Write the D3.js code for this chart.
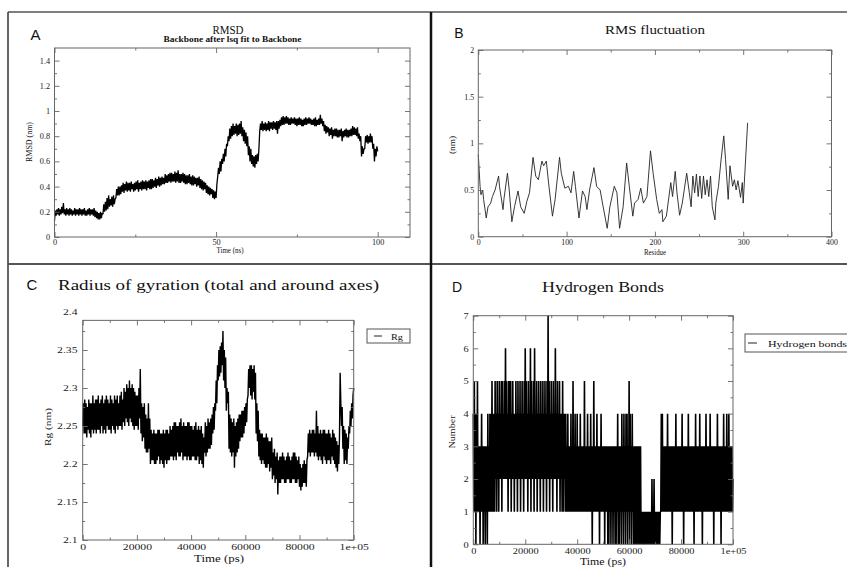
<!DOCTYPE html>
<html><head><meta charset="utf-8">
<script src="https://cdn.jsdelivr.net/npm/d3@7"></script>
<style>body{margin:0;background:#fff}svg{display:block}</style>
</head><body><svg id="c" width="847" height="567"></svg>
<script>
// ---------------- DATA ----------------
// A: RMSD (nm) every 0.25 ns, 0..100 ns
const rmsdStep = 0.25;
const rmsdValues = [
0.13,0.21,0.17,0.22, 0.18,0.23,0.17,0.22, 0.18,0.24,0.19,0.27, 0.18,0.22,0.17,0.23, 0.18,0.22,0.17,0.23,
0.18,0.22,0.17,0.21, 0.18,0.23,0.17,0.22, 0.18,0.22,0.17,0.23, 0.18,0.22,0.17,0.22, 0.18,0.23,0.17,0.21,
0.17,0.22,0.18,0.23, 0.17,0.22,0.18,0.22, 0.17,0.23,0.16,0.21, 0.15,0.2,0.14,0.19, 0.14,0.2,0.15,0.19,
0.18,0.26,0.2,0.28, 0.21,0.31,0.22,0.33, 0.24,0.3,0.25,0.32, 0.24,0.33,0.26,0.3, 0.31,0.38,0.33,0.4,
0.33,0.4,0.34,0.41, 0.36,0.43,0.35,0.42, 0.37,0.44,0.36,0.43, 0.37,0.43,0.36,0.44, 0.38,0.42,0.36,0.43,
0.37,0.44,0.38,0.45, 0.36,0.43,0.38,0.44, 0.37,0.45,0.38,0.44, 0.38,0.45,0.37,0.44, 0.39,0.45,0.38,0.46,
0.38,0.46,0.39,0.45, 0.4,0.47,0.39,0.46, 0.41,0.48,0.4,0.47, 0.41,0.48,0.42,0.47, 0.42,0.5,0.43,0.49,
0.43,0.5,0.44,0.51, 0.43,0.51,0.44,0.5, 0.44,0.52,0.43,0.51, 0.44,0.53,0.43,0.5, 0.43,0.5,0.44,0.51,
0.43,0.5,0.42,0.49, 0.42,0.49,0.43,0.5, 0.42,0.48,0.41,0.49, 0.41,0.48,0.42,0.47, 0.4,0.47,0.41,0.48,
0.39,0.46,0.38,0.45, 0.37,0.44,0.38,0.43, 0.35,0.41,0.34,0.4, 0.33,0.39,0.34,0.38, 0.31,0.37,0.3,0.36,
0.31,0.42,0.48,0.55, 0.5,0.6,0.52,0.62, 0.58,0.66,0.6,0.7, 0.64,0.74,0.72,0.8, 0.76,0.86,0.78,0.88,
0.8,0.9,0.81,0.88, 0.82,0.9,0.8,0.89, 0.81,0.9,0.82,0.92, 0.8,0.87,0.76,0.85, 0.74,0.83,0.72,0.8,
0.65,0.72,0.6,0.7, 0.58,0.65,0.56,0.64, 0.55,0.65,0.58,0.66, 0.6,0.7,0.84,0.9, 0.85,0.92,0.84,0.9,
0.85,0.91,0.84,0.9, 0.85,0.92,0.84,0.91, 0.86,0.91,0.85,0.92, 0.86,0.91,0.85,0.92, 0.82,0.92,0.86,0.93,
0.88,0.95,0.89,0.96, 0.89,0.95,0.9,0.96, 0.9,0.95,0.89,0.94, 0.89,0.95,0.9,0.94, 0.9,0.95,0.89,0.94,
0.88,0.94,0.89,0.95, 0.89,0.94,0.88,0.93, 0.88,0.94,0.89,0.95, 0.89,0.94,0.9,0.95, 0.9,0.94,0.89,0.93,
0.89,0.94,0.88,0.95, 0.88,0.93,0.89,0.94, 0.89,0.97,0.9,0.94, 0.88,0.92,0.84,0.89, 0.82,0.88,0.83,0.87,
0.8,0.86,0.81,0.87, 0.78,0.85,0.8,0.86, 0.8,0.86,0.79,0.85, 0.79,0.85,0.8,0.86, 0.76,0.84,0.79,0.85,
0.8,0.86,0.79,0.85, 0.79,0.85,0.8,0.86, 0.8,0.88,0.81,0.87, 0.81,0.86,0.8,0.87, 0.78,0.82,0.76,0.8,
0.64,0.72,0.66,0.7, 0.7,0.8,0.75,0.81, 0.74,0.8,0.75,0.82, 0.75,0.8,0.7,0.74, 0.6,0.7,0.64,0.72,
0.68];

// B: RMS fluctuation per residue
const residues = [0,2,3,5,6,9,11,14,16,19,23,24,28,29,33,35,38,41,45,48,52,55,58,62,65,68,72,74,77,80,84,87,92,94,98,102,105,108,110,114,118,121,123,126,131,134,138,141,146,149,154,157,160,164,168,171,175,177,181,184,187,191,195,198,202,205,208,209,213,218,220,223,225,228,231,236,239,241,243,245,247,249,251,253,255,257,259,261,263,265,268,269,272,275,278,280,283,285,288,290,292,294,297,299,300,305];
const rmsf = [0.88,0.54,0.45,0.5,0.4,0.2,0.32,0.36,0.43,0.5,0.65,0.54,0.29,0.4,0.68,0.5,0.16,0.32,0.49,0.32,0.25,0.38,0.47,0.85,0.65,0.61,0.81,0.76,0.81,0.54,0.22,0.4,0.85,0.68,0.52,0.54,0.47,0.7,0.54,0.2,0.49,0.43,0.29,0.5,0.74,0.54,0.5,0.34,0.09,0.32,0.54,0.47,0.09,0.32,0.79,0.54,0.22,0.36,0.4,0.52,0.36,0.43,0.92,0.68,0.4,0.25,0.29,0.16,0.22,0.58,0.43,0.7,0.47,0.23,0.36,0.68,0.47,0.32,0.65,0.47,0.67,0.43,0.65,0.41,0.65,0.45,0.61,0.43,0.65,0.32,0.18,0.36,0.54,0.83,1.08,0.83,0.4,0.76,0.54,0.61,0.5,0.6,0.42,0.58,0.36,1.22];

// C: Radius of gyration (nm) every 250 ps, 0..100000 ps
const rgStep = 250;
const rgValues = [
2.25,2.28,2.24,2.285, 2.24,2.28,2.235,2.275, 2.245,2.285,2.24,2.28, 2.235,2.28,2.245,2.29, 2.24,2.28,2.245,2.285,
2.24,2.285,2.245,2.29, 2.245,2.28,2.24,2.285, 2.25,2.29,2.24,2.28, 2.245,2.285,2.24,2.29, 2.25,2.285,2.245,2.28,
2.245,2.29,2.24,2.285, 2.25,2.28,2.245,2.29, 2.24,2.285,2.25,2.29, 2.245,2.28,2.25,2.29, 2.25,2.295,2.245,2.285,
2.255,2.3,2.25,2.295, 2.26,2.305,2.255,2.3, 2.25,2.31,2.26,2.3, 2.255,2.305,2.25,2.3, 2.245,2.295,2.25,2.29,
2.25,2.29,2.245,2.3, 2.26,2.325,2.24,2.28, 2.23,2.275,2.235,2.28, 2.22,2.265,2.215,2.26, 2.215,2.28,2.22,2.26,
2.2,2.245,2.205,2.24, 2.205,2.245,2.2,2.24, 2.2,2.24,2.205,2.245, 2.21,2.245,2.2,2.24, 2.205,2.24,2.2,2.245,
2.195,2.24,2.205,2.245, 2.2,2.245,2.205,2.24, 2.205,2.25,2.21,2.245, 2.21,2.25,2.205,2.255, 2.21,2.255,2.205,2.25,
2.215,2.25,2.21,2.255, 2.21,2.26,2.215,2.25, 2.205,2.255,2.21,2.25, 2.21,2.25,2.205,2.255, 2.21,2.255,2.205,2.25,
2.205,2.25,2.21,2.245, 2.21,2.25,2.205,2.255, 2.205,2.245,2.21,2.25, 2.2,2.245,2.205,2.25, 2.2,2.24,2.195,2.235,
2.215,2.255,2.21,2.25, 2.215,2.26,2.22,2.255, 2.22,2.26,2.225,2.265, 2.24,2.275,2.245,2.28, 2.27,2.31,2.28,2.33,
2.31,2.35,2.315,2.355, 2.32,2.36,2.33,2.375, 2.31,2.35,2.3,2.34, 2.27,2.3,2.28,2.295, 2.22,2.265,2.215,2.26,
2.21,2.255,2.215,2.26, 2.195,2.25,2.21,2.255, 2.215,2.26,2.22,2.265, 2.23,2.265,2.235,2.27, 2.235,2.27,2.24,2.275,
2.25,2.28,2.255,2.285, 2.29,2.325,2.3,2.33, 2.29,2.33,2.285,2.325, 2.295,2.33,2.285,2.32, 2.24,2.28,2.23,2.27,
2.21,2.245,2.205,2.24, 2.2,2.24,2.205,2.235, 2.2,2.235,2.195,2.24, 2.195,2.235,2.2,2.23, 2.19,2.23,2.195,2.235,
2.18,2.215,2.185,2.22, 2.175,2.21,2.18,2.215, 2.16,2.205,2.175,2.21, 2.175,2.21,2.18,2.215, 2.18,2.21,2.175,2.205,
2.175,2.21,2.18,2.215, 2.18,2.21,2.175,2.205, 2.175,2.21,2.18,2.215, 2.18,2.215,2.175,2.21, 2.175,2.205,2.18,2.21,
2.17,2.2,2.165,2.195, 2.17,2.2,2.175,2.205, 2.175,2.2,2.17,2.205, 2.21,2.24,2.215,2.245, 2.21,2.24,2.215,2.245,
2.215,2.245,2.21,2.24, 2.215,2.27,2.21,2.25, 2.205,2.24,2.21,2.245, 2.205,2.24,2.2,2.245, 2.21,2.245,2.205,2.24,
2.2,2.24,2.205,2.245, 2.205,2.24,2.2,2.235, 2.21,2.245,2.205,2.24, 2.2,2.235,2.195,2.23, 2.19,2.225,2.2,2.235,
2.32,2.28,2.25,2.275, 2.22,2.25,2.2,2.245, 2.205,2.24,2.2,2.235, 2.22,2.25,2.24,2.27, 2.25,2.28,2.26,2.29,
2.3];

// D: Hydrogen bonds every 200 ps, 0..100000 ps
const hbStep = 200;
const hbValues = [
4,1,5,1,4,0,4,1,5,1, 3,1,3,0,3,1,4,1,3,0, 3,1,3,0,3,1,3,0,4,1, 3,1,4,1,4,1,5,1,4,1, 4,1,5,2,4,1,5,2,4,1,
5,2,4,2,5,1,5,2,4,2, 5,2,6,2,5,2,4,1,5,2, 5,2,5,1,4,2,5,2,4,1, 4,2,5,2,4,1,5,2,4,2, 5,1,4,2,5,2,4,1,5,2,
6,2,5,2,4,1,5,2,4,2, 6,1,5,2,4,2,5,1,6,2, 4,2,5,1,4,2,5,2,4,1, 5,2,4,2,5,1,4,2,5,2, 4,1,5,2,7,2,5,1,4,2,
5,2,4,1,5,2,4,2,6,2, 4,1,5,2,4,2,5,1,4,2, 4,1,5,1,4,2,4,1,4,1, 3,1,4,1,3,1,3,1,4,1, 3,1,5,1,3,1,4,1,3,1,
4,1,3,1,3,1,4,1,3,1, 3,1,3,1,5,1,3,1,3,1, 4,1,3,1,3,1,4,1,3,0, 3,1,5,1,3,1,3,1,4,1, 3,1,3,0,3,1,4,1,3,1,
3,1,3,0,3,1,3,1,3,0, 3,0,3,1,3,0,3,1,3,0, 3,1,3,0,3,0,3,1,4,0, 3,0,3,1,3,0,4,1,3,0, 4,1,3,0,4,1,4,0,3,1,
5,0,4,1,3,0,4,1,3,0, 3,0,3,0,3,0,3,0,3,0, 3,0,3,0,1,0,1,0,1,0, 1,0,1,0,1,0,1,0,1,0, 1,0,1,0,2,0,1,0,2,0,
1,0,1,0,1,0,1,0,1,0, 1,1,4,1,4,1,3,1,3,1, 3,1,3,1,4,1,3,1,3,1, 3,1,3,0,3,1,3,1,3,1, 4,1,3,1,3,1,3,1,3,1,
3,1,4,1,3,0,3,1,3,1, 3,1,3,1,4,1,3,1,3,1, 3,1,3,1,3,0,3,1,4,1, 3,1,3,1,3,1,4,1,3,1, 3,0,3,1,3,1,3,1,4,1,
3,1,3,1,3,1,4,1,3,1, 3,1,3,0,3,1,3,1,3,1, 4,1,3,1,3,1,3,0,3,1, 3,1,4,1,3,1,3,1,4,1, 3,1,4,1,3,1,3,1,3,1,
2];

// tick values
const rmsdXTicks = [0,50,100], rmsdXMinor = [25,75];
const rmsdYTicks = [0,0.2,0.4,0.6,0.8,1,1.2,1.4], rmsdYMinor = [0.1,0.3,0.5,0.7,0.9,1.1,1.3];
const rmsfXTicks = [0,100,200,300,400], rmsfXMinor = [50,150,250,350];
const rmsfYTicks = [0,0.5,1,1.5,2], rmsfYMinor = [0.25,0.75,1.25,1.75];
const psTicks = [0,20000,40000,60000,80000,100000], psMinor = [10000,30000,50000,70000,90000];
const rgYTicks = [2.1,2.15,2.2,2.25,2.3,2.35,2.4], rgYMinor = [2.125,2.175,2.225,2.275,2.325,2.375];
const hbYTicks = [0,1,2,3,4,5,6,7], hbYMinor = [0.5,1.5,2.5,3.5,4.5,5.5,6.5];

// ---------------- DRAW ----------------
const SERIF = "'Liberation Serif','Times New Roman',serif";
const SANS = "'Liberation Sans',Arial,sans-serif";
const svg = d3.select('#c');
svg.append('rect').attr('width',847).attr('height',567).attr('fill','#fff');

function txt(x, y, s, o) {
  const t = svg.append('text').attr('x', x).attr('y', y).text(s)
    .attr('font-family', o.family || SERIF).attr('font-size', o.size)
    .attr('fill', o.fill || '#111').attr('text-anchor', o.anchor || 'middle');
  if (o.weight) t.attr('font-weight', o.weight);
  if (o.len) t.attr('textLength', o.len).attr('lengthAdjust', 'spacingAndGlyphs');
  if (o.rot) t.attr('transform', `rotate(${o.rot},${x},${y})`);
  return t;
}

function panel(o) {
  const x = d3.scaleLinear().domain(o.xd).range(o.xr);
  const y = d3.scaleLinear().domain(o.yd).range(o.yr);
  const L = x(o.xFrame[0]), R = x(o.xFrame[1]);
  const B = y(o.yFrame[0]), T = y(o.yFrame[1]);
  const g = svg.append('g');
  const inside = (v, a, b) => v >= Math.min(a,b) - 0.01 && v <= Math.max(a,b) + 0.01;
  const style = (sel) => {
    sel.select('.domain').remove();
    sel.selectAll('line').attr('stroke', '#666').attr('stroke-width', 0.9);
    sel.selectAll('text').attr('font-family', SERIF).attr('font-size', o.tickSize).attr('fill', '#222');
  };
  // data first, frame & ticks on top
  const line = d3.line().x(d => x(d[0])).y(d => y(d[1]));
  g.append('path').datum(o.data).attr('d', line).attr('fill', 'none')
    .attr('stroke', o.color || '#000').attr('stroke-width', o.sw || 1).attr('stroke-linejoin', 'bevel');
  // minor ticks
  g.append('g').attr('transform', `translate(0,${B})`).call(d3.axisBottom(x).tickValues(o.xMinor).tickSize(-2.5).tickFormat('')).call(style);
  g.append('g').attr('transform', `translate(0,${T})`).call(d3.axisTop(x).tickValues(o.xMinor).tickSize(-2.5).tickFormat('')).call(style);
  g.append('g').attr('transform', `translate(${L},0)`).call(d3.axisLeft(y).tickValues(o.yMinor).tickSize(-2.5).tickFormat('')).call(style);
  g.append('g').attr('transform', `translate(${R},0)`).call(d3.axisRight(y).tickValues(o.yMinor).tickSize(-2.5).tickFormat('')).call(style);
  // major
  const ab = g.append('g').attr('transform', `translate(0,${B})`).call(d3.axisBottom(x).tickValues(o.xTicks).tickSize(-5).tickPadding(o.xPad).tickFormat(o.xFmt)).call(style);
  g.append('g').attr('transform', `translate(0,${T})`).call(d3.axisTop(x).tickValues(o.xTicks.filter(v=>inside(x(v),L,R))).tickSize(-5).tickFormat('')).call(style);
  const al = g.append('g').attr('transform', `translate(${L},0)`).call(d3.axisLeft(y).tickValues(o.yTicks).tickSize(-5).tickPadding(o.yPad).tickFormat(o.yFmt)).call(style);
  g.append('g').attr('transform', `translate(${R},0)`).call(d3.axisRight(y).tickValues(o.yTicks.filter(v=>inside(y(v),T,B))).tickSize(-5).tickFormat('')).call(style);
  ab.selectAll('.tick').filter(d => !inside(x(d), L, R)).select('line').remove();
  al.selectAll('.tick').filter(d => !inside(y(d), T, B)).select('line').remove();
  if (o.sx) {
    ab.selectAll('text').attr('transform', `scale(${o.sx},1)`);
    al.selectAll('text').attr('transform', `scale(${o.sx},1)`);
  }
  // frame
  g.append('rect').attr('x', L).attr('y', T).attr('width', R - L).attr('height', B - T)
    .attr('fill', 'none').attr('stroke', '#666').attr('stroke-width', 1);
  return {x, y};
}

const numFmt = d => String(+d.toFixed(3));
const psFmt = d => d === 100000 ? '1e+05' : String(d);

// Panel A
panel({
  xd: [0, 110], xr: [54.5, 410], yd: [0, 1.5], yr: [237, 48],
  xFrame: [0, 110], yFrame: [0, 1.5],
  xTicks: rmsdXTicks, xMinor: rmsdXMinor, yTicks: rmsdYTicks, yMinor: rmsdYMinor,
  xFmt: numFmt, yFmt: numFmt, tickSize: 7.5, xPad: 3, yPad: 4, sx: 1.1,
  data: rmsdValues.map((v, i) => [i * rmsdStep, v]), sw: 1.3
});
// Panel B
panel({
  xd: [0, 400], xr: [478.3, 831.5], yd: [0, 2], yr: [236.7, 50],
  xFrame: [0, 400], yFrame: [0, 2],
  xTicks: rmsfXTicks, xMinor: rmsfXMinor, yTicks: rmsfYTicks, yMinor: rmsfYMinor,
  xFmt: numFmt, yFmt: numFmt, tickSize: 7.5, xPad: 3, yPad: 4, sx: 1.05,
  data: residues.map((r, i) => [r, rmsf[i]]), color: '#222', sw: 0.9
});
// Panel C
panel({
  xd: [0, 100000], xr: [82.7, 353.7], yd: [2.1, 2.4], yr: [540, 312],
  xFrame: [0, 100000], yFrame: [2.1, 2.389],
  xTicks: psTicks, xMinor: psMinor, yTicks: rgYTicks, yMinor: rgYMinor,
  xFmt: psFmt, yFmt: numFmt, tickSize: 9, xPad: 3.5, yPad: 4, sx: 1.3,
  data: rgValues.map((v, i) => [i * rgStep, v]), sw: 1.4
});
// Panel D
panel({
  xd: [0, 100000], xr: [473.3, 733], yd: [0, 7], yr: [544.3, 315.7],
  xFrame: [0, 100000], yFrame: [0, 7],
  xTicks: psTicks, xMinor: psMinor, yTicks: hbYTicks, yMinor: hbYMinor,
  xFmt: psFmt, yFmt: numFmt, tickSize: 9, xPad: 3, yPad: 4, sx: 1.15,
  data: hbValues.map((v, i) => [i * hbStep, v]), sw: 1.6
});

// titles & labels
txt(35.5, 40, 'A', {family: SANS, size: 15});
txt(228, 34, 'RMSD', {size: 11.5, len: 31});
txt(232.5, 42, 'Backbone after lsq fit to Backbone', {size: 7.5, len: 138, weight: 'bold'});
txt(32, 142, 'RMSD (nm)', {size: 7.5, len: 40, rot: -90});
txt(230, 253, 'Time (ns)', {size: 8, len: 27});

txt(459, 38, 'B', {family: SANS, size: 14});
txt(655, 33.5, 'RMS fluctuation', {size: 12, len: 100});
txt(455, 145, '(nm)', {size: 7.5, len: 18, rot: -90});
txt(655, 254.5, 'Residue', {size: 7.5, len: 22});

txt(32, 290, 'C', {family: SANS, size: 15});
txt(218.5, 290, 'Radius of gyration (total and around axes)', {size: 15, len: 321});
txt(51, 427, 'Rg (nm)', {size: 9, len: 38, rot: -90});
txt(219, 561.5, 'Time (ps)', {size: 10, len: 50});

txt(457, 292, 'D', {family: SANS, size: 14});
txt(603, 292, 'Hydrogen Bonds', {size: 14.5, len: 122});
txt(455, 432, 'Number', {size: 9, len: 33, rot: -90});
txt(603, 565, 'Time (ps)', {size: 9.5, len: 46});

// legends
svg.append('rect').attr('x', 367).attr('y', 329).attr('width', 43).attr('height', 14).attr('fill', '#fff').attr('stroke', '#555').attr('stroke-width', 1);
svg.append('line').attr('x1', 374).attr('x2', 382).attr('y1', 336).attr('y2', 336).attr('stroke', '#222');
txt(391, 339.5, 'Rg', {size: 8.5, anchor: 'start', len: 12});

svg.append('rect').attr('x', 745).attr('y', 334).attr('width', 110).attr('height', 18).attr('fill', '#fff').attr('stroke', '#555').attr('stroke-width', 1);
svg.append('line').attr('x1', 748).attr('x2', 757).attr('y1', 343).attr('y2', 343).attr('stroke', '#222');
txt(768, 346.5, 'Hydrogen bonds', {size: 9, anchor: 'start', len: 79});

// layout borders
const border = (x1, y1, x2, y2, c, w) => svg.append('line').attr('x1', x1).attr('y1', y1).attr('x2', x2).attr('y2', y2).attr('stroke', c).attr('stroke-width', w);
border(8, 12, 847, 12, '#555', 1.5);
border(8, 12, 8, 567, '#333', 1.5);
border(8, 264, 847, 264, '#555', 2);
border(431, 12, 431, 567, '#111', 2.5);
</script></body></html>
